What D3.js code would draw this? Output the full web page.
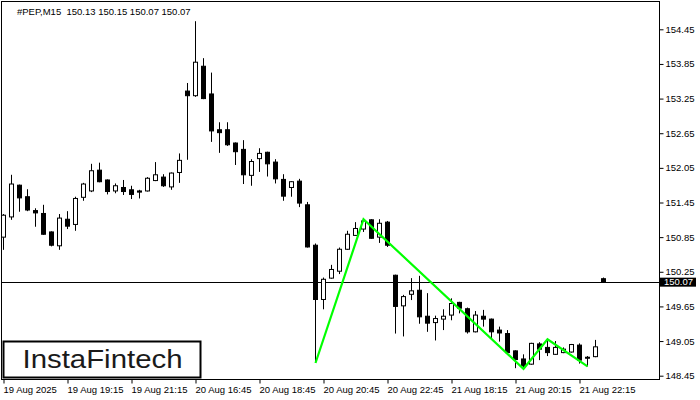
<!DOCTYPE html>
<html><head><meta charset="utf-8">
<script src="https://cdn.jsdelivr.net/npm/d3@7"></script>
<style>
body{margin:0;background:#fff}
svg{display:block}
text{font-family:"Liberation Sans",Arial,sans-serif}
</style>
</head><body><svg id="c" width="700" height="400"></svg>
<script>
const symbol = "#PEP,M15";
const lastBar = ["150.13","150.15","150.07","150.07"];
const open  = [150.85,151.20,151.75,151.55,151.31,151.26,150.94,150.70,151.16,151.07,151.54,151.65,152.01,151.84,151.65,151.71,151.67,151.65,151.65,151.83,
               151.89,151.72,151.97,153.38,153.30,153.81,153.33,152.71,152.71,152.48,152.37,151.92,152.21,152.32,152.15,151.85,151.71,151.82,151.41,150.71,
               149.77,150.14,150.26,150.64,150.88,150.99,151.15,150.85,151.11,150.19,149.66,149.86,149.93,149.48,149.37,149.43,149.50,149.72,149.61,149.21,
               149.48,149.43,149.24,149.18,148.88,148.74,148.65,149.00,148.94,148.82,148.85,148.86,148.98,148.77,148.78,150.13];
const high  = [151.25,151.93,151.76,151.68,151.35,151.41,150.95,151.25,151.30,151.55,151.79,152.12,152.14,151.85,151.78,151.84,151.74,151.67,151.89,152.15,
               151.94,151.97,152.30,153.52,154.59,153.95,153.70,152.84,152.84,152.49,152.53,152.20,152.39,152.33,152.20,151.94,151.82,151.86,151.46,150.74,
               150.15,150.37,150.67,150.96,151.11,151.16,151.16,151.16,151.13,150.20,149.85,150.14,150.18,149.88,149.49,149.60,149.79,149.73,149.63,149.57,
               149.59,149.44,149.30,149.24,148.89,148.82,149.02,149.03,149.07,149.05,148.94,149.00,149.01,148.79,149.07,150.15];
const low   = [150.63,151.15,151.29,151.30,151.03,150.89,150.69,150.63,150.99,150.96,151.48,151.63,151.80,151.59,151.61,151.58,151.51,151.52,151.64,151.82,
               151.72,151.67,151.79,152.19,153.28,153.24,152.50,152.31,152.43,152.10,151.77,151.74,151.98,151.90,151.78,151.48,151.55,151.37,150.67,148.67,
               149.60,150.13,150.21,150.63,150.87,150.94,150.82,150.75,150.68,149.18,149.13,149.76,149.35,149.21,149.06,149.24,149.41,149.53,149.18,149.20,
               149.30,149.07,149.04,148.84,148.58,148.55,148.64,148.72,148.79,148.81,148.84,148.85,148.66,148.61,148.77,150.07];
const close = [151.23,151.77,151.53,151.32,151.27,150.90,150.71,151.18,151.04,151.52,151.77,152.00,151.81,151.64,151.74,151.64,151.59,151.63,151.87,151.93,
               151.74,151.96,152.18,153.30,153.88,153.25,152.69,152.66,152.45,152.33,151.93,152.16,152.30,152.12,151.86,151.56,151.81,151.44,150.68,149.77,
               150.12,150.29,150.64,150.90,151.00,151.13,150.83,151.09,150.71,149.65,149.82,149.92,149.47,149.36,149.44,149.48,149.70,149.62,149.21,149.50,
               149.43,149.21,149.19,148.85,148.73,148.62,149.01,148.91,148.85,148.94,148.91,148.99,148.72,148.76,148.95,150.07];
const yTicks = [154.45,153.85,153.25,152.65,152.05,151.45,150.85,150.25,149.65,149.05,148.45];
const xTickIndex = [0,8,16,24,32,40,48,56,64,72];
const xTickLabels = ["19 Aug 2025","19 Aug 19:15","19 Aug 21:15","20 Aug 16:45","20 Aug 18:45",
                     "20 Aug 20:45","20 Aug 22:45","21 Aug 18:15","21 Aug 20:15","21 Aug 22:15"];
const currentPrice = 150.07;
const patternIndex = [39,45,65,68,73];
const patternValue = [148.67,151.16,148.57,149.08,148.61];
const logoText = "InstaFintech";

(function () {
const svg = d3.select("#c");
const pl = 1.5, pr = 659.5, pt = 1.5, pb = 379.5;
const x = d3.scaleLinear().domain([0, open.length - 1]).range([3.5, 603.5]);
const y = d3.scaleLinear().domain([148.45, 154.45]).range([375.7, 29.3]);

const candles = open.map((o, i) => ({i, o, h: high[i], l: low[i], c: close[i]}));

// current price line
const cpy = Math.round(y(currentPrice)) + 0.5;
svg.append("line").attr("x1", pl).attr("x2", pr)
  .attr("y1", cpy).attr("y2", cpy)
  .attr("stroke", "#000").attr("stroke-width", 1);

// candles
const g = svg.append("g");
g.selectAll("line.w").data(candles).join("line").attr("class", "w")
  .attr("x1", d => x(d.i)).attr("x2", d => x(d.i))
  .attr("y1", d => y(d.h)).attr("y2", d => y(d.l))
  .attr("stroke", "#000").attr("stroke-width", 1);
g.selectAll("rect.b").data(candles).join("rect").attr("class", "b")
  .attr("x", d => x(d.i) - 2).attr("width", 4)
  .attr("y", d => y(Math.max(d.o, d.c)))
  .attr("height", d => Math.max(1, Math.abs(y(d.o) - y(d.c))))
  .attr("fill", d => d.c >= d.o ? "#fff" : "#000")
  .attr("stroke", "#000").attr("stroke-width", 1);

// pattern line
svg.append("path")
  .datum(patternIndex.map((k, j) => [k, patternValue[j]]))
  .attr("d", d3.line().x(d => x(d[0])).y(d => y(d[1])))
  .attr("fill", "none").attr("stroke", "#00ff00").attr("stroke-width", 2.2)
  .attr("stroke-linejoin", "miter");

// frame
svg.append("rect").attr("x", pl).attr("y", pt)
  .attr("width", pr - pl).attr("height", pb - pt)
  .attr("fill", "none").attr("stroke", "#000").attr("stroke-width", 1);

// y axis
const ya = svg.append("g").attr("transform", `translate(${pr},0)`)
  .call(d3.axisRight(y).tickValues(yTicks).tickSize(4).tickPadding(2).tickFormat(d3.format(".2f")));
ya.select(".domain").remove();
ya.selectAll("text").attr("font-size", 9.5).attr("fill", "#000").attr("font-family", '"Liberation Sans",Arial,sans-serif');
ya.selectAll("line").attr("stroke", "#000");

// price label
const py = y(currentPrice);
svg.append("rect").attr("x", 660).attr("y", py - 4.5).attr("width", 36).attr("height", 9).attr("fill", "#000");
svg.append("text").attr("x", 664).attr("y", py).attr("dy", "0.35em")
  .attr("font-size", 9.5).attr("fill", "#fff").text(d3.format(".2f")(currentPrice));

// x axis
const xa = svg.append("g").attr("transform", `translate(0,${pb})`)
  .call(d3.axisBottom(x).tickValues(xTickIndex).tickSize(4).tickPadding(3)
    .tickFormat((d, i) => xTickLabels[i]));
xa.select(".domain").remove();
xa.selectAll("text").attr("text-anchor", "start").attr("x", -0.5)
  .attr("font-size", 9.5).attr("fill", "#000").attr("font-family", '"Liberation Sans",Arial,sans-serif');
xa.selectAll("line").attr("stroke", "#000");

// header
svg.append("text").attr("x", 17).attr("y", 15).attr("font-size", 9.5).attr("fill", "#000")
  .attr("xml:space", "preserve")
  .text(symbol + "  " + lastBar.join(" "));

// logo
svg.append("rect").attr("x", 3.5).attr("y", 341.5).attr("width", 197).attr("height", 36)
  .attr("fill", "#fff").attr("stroke", "#000").attr("stroke-width", 2);
svg.append("text").attr("x", 22.5).attr("y", 367.5).attr("font-size", 25)
  .attr("font-family", "Lato, 'Open Sans', sans-serif").attr("font-weight", 500)
  .attr("fill", "#1a1a1a").attr("textLength", 160).attr("lengthAdjust", "spacingAndGlyphs")
  .text(logoText);
})();
</script>
</body></html>
